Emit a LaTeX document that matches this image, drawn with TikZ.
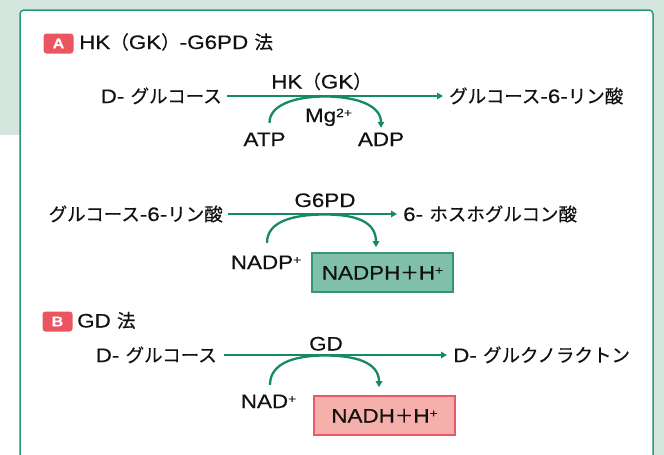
\documentclass[tikz,border=0pt]{standalone}
\usepackage{fontspec}
\setmainfont{Liberation Sans}[FakeStretch=1.15,FakeBold=0.35]
\newfontfamily\jpfont{Noto Sans CJK JP}[FakeBold=0.35]
\usetikzlibrary{arrows.meta}

% Japanese runs inside the Latin text
\newcommand{\J}[1]{{\jpfont\fontsize{18.5}{22}\selectfont #1}}
% small raised charge / exponent
\newcommand{\sups}[1]{\raisebox{5pt}{\fontsize{12}{12}\selectfont #1}}

\definecolor{bggreen}{RGB}{213,230,222}
\definecolor{framegreen}{RGB}{40,152,118}
\definecolor{flowgreen}{RGB}{22,138,104}
\definecolor{badgered}{RGB}{233,86,96}
\definecolor{pinkfill}{RGB}{246,176,172}
\definecolor{pinkline}{RGB}{232,90,100}
\definecolor{tealfill}{RGB}{128,192,170}
\definecolor{tealline}{RGB}{52,150,115}
\definecolor{ink}{RGB}{17,17,17}

\begin{document}
\begin{tikzpicture}[x=1pt,y=-1pt,
  lbl/.style={inner sep=0pt, text height=14pt, text depth=0pt,
    font=\fontsize{19.5}{22}\selectfont, text=ink},
  badge/.style={fill=badgered, rounded corners=3pt, inner sep=0pt,
    minimum width=30pt, minimum height=20pt, text=white,
    font=\fontsize{14}{16}\selectfont\bfseries},
  flow/.style={draw=flowgreen, line width=2.3pt,
    -{Triangle[length=6pt,width=6.5pt]}},
  prodbox/.style={lbl, minimum width=141pt, minimum height=39pt,
    line width=1.6pt, text height=14pt},
]
\useasboundingbox (0,0) rectangle (664,455);

% backdrop and framed panel
\fill[white] (0,0) rectangle (664,455);
\fill[bggreen] (0,0) rectangle (664,135);
\fill[bggreen] (640,0) rectangle (664,455);
\draw[framegreen, line width=1.5pt, fill=white, rounded corners=4pt]
  (20,10) rectangle (653,475);

% ---- A: HK (GK) - G6PD method ----
\node[badge] (badA) at (58.5,43.5) {A};
\node[lbl, anchor=west] (titA) at (79,42)
  {HK\J{（}GK\J{）}-G6PD \J{法}};

% step 1: hexokinase
\node[lbl, anchor=east] (glcA) at (222,96) {D- \J{グルコース}};
\node[lbl, anchor=west] (g6pA) at (449,96) {\J{グルコース}-6-\J{リン酸}};
\node[lbl] (hk) at (321.5,81.5) {HK\J{（}GK\J{）}};
\node[lbl] (mg) at (328.5,115) {Mg\sups{2+}};
\node[lbl] (atp) at (264.5,139) {ATP};
\node[lbl] (adp) at (381,139) {ADP};
\draw[flow, shorten <=5pt, shorten >=6pt] (glcA.east) -- (g6pA.west);
\coordinate (pkA) at (325,96.5);
\draw[flow, shorten <=9pt, shorten >=4pt]
  ([xshift=5pt]atp.north) .. controls +(0,-27) and +(-30,0) .. (pkA)
  .. controls +(30,0) and +(0,-27) .. (adp.north);

% step 2: G6PD
\node[lbl, anchor=east] (g6pB) at (223,214) {\J{グルコース}-6-\J{リン酸}};
\node[lbl, anchor=west] (pgl) at (403,214) {6- \J{ホスホグルコン酸}};
\node[lbl] (g6pd) at (325,200) {G6PD};
\node[lbl] (nadp) at (266,262) {NADP\sups{+}};
\node[prodbox, draw=tealline, fill=tealfill] (nadph) at (382.5,272.5)
  {NADPH\J{＋}H\sups{+}};
\draw[flow, shorten <=5pt, shorten >=6pt] (g6pB.east) -- (pgl.west);
\coordinate (pkB) at (325,214.5);
\draw[flow, shorten <=12pt, shorten >=5pt]
  ([xshift=1pt]nadp.north) .. controls +(0,-33) and +(-33,0) .. (pkB)
  .. controls +(30,0) and +(0,-31) .. ([xshift=-6.5pt]nadph.north);

% ---- B: GD method ----
\node[badge] (badB) at (57.5,321.5) {B};
\node[lbl, anchor=west] (titB) at (77,320.5) {GD \J{法}};

\node[lbl, anchor=east] (glcB) at (217,355) {D- \J{グルコース}};
\node[lbl, anchor=west] (lac) at (453,355) {D- \J{グルクノラクトン}};
\node[lbl] (gd) at (326,343.5) {GD};
\node[lbl] (nad) at (268.5,401) {NAD\sups{+}};
\node[prodbox, draw=pinkline, fill=pinkfill] (nadh) at (384.5,415.5)
  {NADH\J{＋}H\sups{+}};
\draw[flow, shorten <=7pt, shorten >=6pt] (glcB.east) -- (lac.west);
\coordinate (pkC) at (325,355.5);
\draw[flow, shorten <=9pt, shorten >=8pt]
  ([xshift=1.5pt]nad.north) .. controls +(0,-30) and +(-32,0) .. (pkC)
  .. controls +(30,0) and +(0,-33) .. ([xshift=-5.5pt]nadh.north);
\end{tikzpicture}
\end{document}
